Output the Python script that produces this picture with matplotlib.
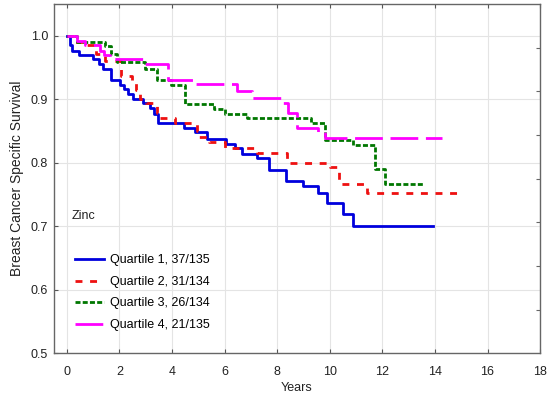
import matplotlib
matplotlib.use('Agg')
import matplotlib.pyplot as plt

plt.rcParams['font.family'] = ['Liberation Sans', 'DejaVu Sans']
plt.rcParams['lines.scale_dashes'] = False

# Kaplan-Meier steps: (time in years, survival after step); last time = end of follow-up
q1_t = [0, 0.12, 0.19, 0.47, 1.00, 1.24, 1.37, 1.68, 2.03, 2.19, 2.32, 2.53, 2.91, 3.17, 3.32, 3.46,
        4.47, 4.88, 5.35, 6.06, 6.40, 6.65, 7.25, 7.70, 8.35, 8.98, 9.54, 9.89, 10.52, 10.87, 13.92]
q1_s = [1.0, 0.985, 0.976, 0.970, 0.963, 0.956, 0.948, 0.930, 0.923, 0.916, 0.908, 0.901, 0.894, 0.887, 0.876, 0.862,
        0.855, 0.848, 0.837, 0.830, 0.823, 0.814, 0.807, 0.789, 0.772, 0.764, 0.753, 0.737, 0.720, 0.700, 0.700]

q2_t = [0, 0.30, 0.70, 1.10, 1.45, 2.05, 2.47, 2.62, 2.79, 3.00, 3.42, 3.55, 4.12, 4.94, 5.03, 5.40,
        6.02, 7.25, 8.39, 10.00, 10.37, 11.43, 14.83]
q2_s = [1.0, 0.990, 0.985, 0.971, 0.960, 0.937, 0.927, 0.915, 0.900, 0.894, 0.879, 0.871, 0.863, 0.850, 0.841, 0.832,
        0.824, 0.816, 0.800, 0.793, 0.766, 0.752, 0.752]

q3_t = [0, 0.40, 1.45, 1.70, 1.90, 2.98, 3.42, 3.95, 4.50, 5.60, 6.00, 6.84, 9.28, 9.82, 10.90, 11.72, 12.12, 13.54]
q3_s = [1.0, 0.990, 0.984, 0.971, 0.958, 0.947, 0.931, 0.923, 0.893, 0.885, 0.877, 0.870, 0.862, 0.836, 0.828, 0.790, 0.766, 0.766]

q4_t = [0, 0.38, 0.70, 1.27, 1.40, 1.65, 2.98, 3.86, 4.90, 6.46, 7.05, 8.15, 8.42, 8.75, 9.55, 9.82, 14.26]
q4_s = [1.0, 0.991, 0.985, 0.976, 0.970, 0.963, 0.956, 0.931, 0.924, 0.913, 0.902, 0.894, 0.879, 0.855, 0.848, 0.839, 0.839]

labels = ['Quartile 1, 37/135', 'Quartile 2, 31/134', 'Quartile 3, 26/134', 'Quartile 4, 21/135']
colors = ['#0000dd', '#ee1111', '#007700', '#ff00ff']
dashes = [None, (5, 5.5), (3.6, 1.6), (20, 5.5)]

fig = plt.figure(figsize=(5.5, 3.98), dpi=100)
ax = fig.add_axes([0.0975, 0.1123, 0.8845, 0.8777])

series = [(q1_t, q1_s), (q2_t, q2_s), (q3_t, q3_s), (q4_t, q4_s)]
for (t, s), lab, c, d in zip(series, labels, colors, dashes):
    line, = ax.step(t, s, where='post', color=c, lw=2.0, label=lab)
    if d is not None:
        line.set_dashes(d)

ax.set_xlim(-0.5, 18)
ax.set_ylim(0.5, 1.05)
ax.set_xticks(range(0, 19, 2))
ax.set_yticks([0.5, 0.6, 0.7, 0.8, 0.9, 1.0])
ax.set_yticklabels(['0.5', '0.6', '0.7', '0.8', '0.9', '1.0'])
ax.grid(True, color='#e4e4e4', lw=0.8)
ax.set_axisbelow(True)
ax.tick_params(direction='in', length=3, top=True, labelsize=9, colors='#555555', labelcolor='#222222')
ax.tick_params(axis='x', pad=9)
ax.tick_params(axis='y', pad=4)
for sp in ax.spines.values():
    sp.set_color('#666666')
    sp.set_linewidth(1.0)

ax.set_xlabel('Years', fontsize=9, color='#222222', labelpad=3)
ax.set_ylabel('Breast Cancer Specific Survival', fontsize=10, color='#222222', labelpad=5)

ax2 = ax.twinx()
ax2.set_ylim(0, 8)
ax2.set_yticks(range(1, 8))
ax2.set_yticklabels([])
ax2.tick_params(direction='in', length=3, colors='#666666')
for sp in ax2.spines.values():
    sp.set_visible(False)

ax.text(0.037, 0.392, 'Zinc', transform=ax.transAxes, fontsize=9, va='center', ha='left', color='#222222')
ax.legend(loc='upper left', bbox_to_anchor=(0.044, 0.283), frameon=False, fontsize=9,
          borderpad=0, borderaxespad=0, handlelength=2.32, handletextpad=0.5, labelspacing=0.76)

fig.savefig('out.png', dpi=100)
